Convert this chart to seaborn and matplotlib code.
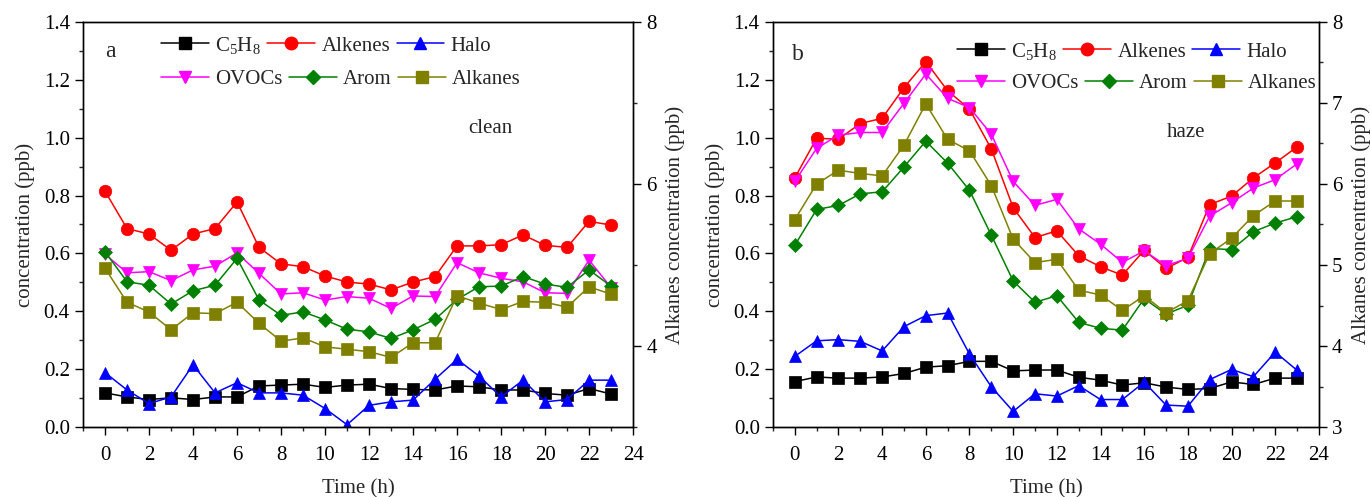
import numpy as np
import pandas as pd
import matplotlib
matplotlib.use("Agg")
import matplotlib.pyplot as plt
from matplotlib.lines import Line2D
from matplotlib.ticker import MultipleLocator
import seaborn as sns

hours = list(range(24))
names = ['C$_5$H$_8$', 'Alkenes', 'Halo', 'OVOCs', 'Arom']
colors = ['black', 'red', 'blue', '#ff00ff', 'green']
markers = ['s', 'o', '^', 'v', 'D']
msizes = [8, 9, 9, 9, 7]
alk_color = '#808000'

# clean days (a)
clean_c5h8 = [0.118, 0.104, 0.095, 0.101, 0.095, 0.104, 0.104, 0.142, 0.145, 0.148, 0.137, 0.145,
              0.148, 0.133, 0.130, 0.128, 0.142, 0.139, 0.128, 0.128, 0.116, 0.110, 0.133, 0.114]
clean_alkenes = [0.815, 0.686, 0.667, 0.611, 0.667, 0.686, 0.778, 0.621, 0.564, 0.554, 0.522, 0.501,
                 0.494, 0.474, 0.501, 0.520, 0.626, 0.626, 0.630, 0.664, 0.628, 0.621, 0.711, 0.698]
clean_halo = [0.188, 0.128, 0.081, 0.104, 0.215, 0.118, 0.153, 0.118, 0.118, 0.110, 0.064, 0.008,
              0.075, 0.087, 0.093, 0.165, 0.234, 0.176, 0.104, 0.162, 0.087, 0.095, 0.162, 0.162]
clean_ovocs = [0.597, 0.533, 0.537, 0.506, 0.543, 0.556, 0.602, 0.531, 0.460, 0.464, 0.439, 0.451,
               0.445, 0.410, 0.453, 0.451, 0.568, 0.533, 0.514, 0.502, 0.464, 0.462, 0.577, 0.482]
clean_arom = [0.606, 0.502, 0.490, 0.425, 0.471, 0.490, 0.583, 0.439, 0.386, 0.398, 0.370, 0.338,
              0.329, 0.306, 0.336, 0.372, 0.441, 0.485, 0.487, 0.520, 0.494, 0.483, 0.543, 0.487]
clean_alkanes = [4.96, 4.54, 4.42, 4.20, 4.41, 4.40, 4.54, 4.28, 4.06, 4.10, 3.99, 3.96,
                 3.93, 3.86, 4.04, 4.04, 4.62, 4.53, 4.45, 4.55, 4.54, 4.48, 4.73, 4.64]

# haze days (b)
haze_c5h8 = [0.157, 0.173, 0.169, 0.169, 0.173, 0.185, 0.207, 0.212, 0.227, 0.227, 0.194, 0.197,
             0.197, 0.172, 0.162, 0.145, 0.153, 0.138, 0.130, 0.133, 0.156, 0.147, 0.169, 0.169]
haze_alkenes = [0.861, 0.998, 0.995, 1.049, 1.067, 1.173, 1.263, 1.162, 1.099, 0.961, 0.758, 0.655,
                0.678, 0.592, 0.554, 0.525, 0.611, 0.548, 0.586, 0.769, 0.798, 0.861, 0.913, 0.968]
haze_halo = [0.244, 0.298, 0.302, 0.296, 0.263, 0.347, 0.385, 0.394, 0.252, 0.139, 0.054, 0.115,
             0.107, 0.143, 0.095, 0.095, 0.155, 0.076, 0.072, 0.164, 0.199, 0.174, 0.259, 0.196]
haze_ovocs = [0.849, 0.963, 1.009, 1.018, 1.018, 1.119, 1.220, 1.136, 1.104, 1.012, 0.849, 0.766,
              0.787, 0.685, 0.632, 0.569, 0.609, 0.558, 0.583, 0.729, 0.775, 0.826, 0.855, 0.910]
haze_arom = [0.628, 0.752, 0.766, 0.806, 0.813, 0.899, 0.988, 0.912, 0.818, 0.663, 0.505, 0.431,
             0.454, 0.362, 0.341, 0.335, 0.444, 0.390, 0.421, 0.617, 0.613, 0.675, 0.705, 0.727]
haze_alkanes = [5.56, 6.00, 6.17, 6.13, 6.10, 6.48, 6.99, 6.55, 6.41, 5.98, 5.32, 5.03,
                5.07, 4.69, 4.63, 4.44, 4.62, 4.41, 4.56, 5.14, 5.33, 5.61, 5.79, 5.79]

sns.set_style('ticks')
plt.rcParams['font.family'] = ['Liberation Serif', 'DejaVu Serif']
plt.rcParams['mathtext.default'] = 'regular'
plt.rcParams['font.size'] = 15

fig = plt.figure(figsize=(13.7, 4.97), dpi=100)
ax_a = fig.add_axes([0.0606, 0.1408, 0.4015, 0.815])
ax_b = fig.add_axes([0.5642, 0.1408, 0.3985, 0.815])

panels = [
    (ax_a, [clean_c5h8, clean_alkenes, clean_halo, clean_ovocs, clean_arom], clean_alkanes,
     'a', 'clean', (0.05, 0.926), (0.74, 0.738), 0.142, (0.943, 0.859), 2),
    (ax_b, [haze_c5h8, haze_alkenes, haze_halo, haze_ovocs, haze_arom], haze_alkanes,
     'b', 'haze', (0.046, 0.92), (0.756, 0.726), 0.337, (0.928, 0.849), 1),
]

for ax, series, alkanes, letter, tag, lpos, tpos, legx, legy, rstep in panels:
    for vals, name, c, m, ms in zip(series, names, colors, markers, msizes):
        sns.lineplot(x=hours, y=vals, ax=ax, color=c, marker=m, markersize=ms,
                     markeredgecolor=c, markeredgewidth=0.5, linewidth=1.1, legend=False)
    ax2 = ax.twinx()
    sns.lineplot(x=hours, y=alkanes, ax=ax2, color=alk_color, marker='s', markersize=8,
                 markeredgecolor=alk_color, markeredgewidth=0.5, linewidth=1.1, legend=False)

    ax.set_xlim(-1, 24)
    ax.set_ylim(0, 1.4)
    ax2.set_ylim(3, 8)
    ax.xaxis.set_major_locator(MultipleLocator(2))
    ax.xaxis.set_minor_locator(MultipleLocator(1))
    ax.yaxis.set_major_locator(MultipleLocator(0.2))
    ax.yaxis.set_minor_locator(MultipleLocator(0.1))
    ax2.yaxis.set_major_locator(MultipleLocator(rstep))
    ax2.yaxis.set_minor_locator(MultipleLocator(rstep / 2))
    ax.yaxis.set_major_formatter(matplotlib.ticker.FormatStrFormatter('%.1f'))
    ax2.yaxis.set_major_formatter(matplotlib.ticker.FormatStrFormatter('%d'))

    for a in (ax, ax2):
        for sp in a.spines.values():
            sp.set_visible(True)
            sp.set_linewidth(1.0)
            sp.set_color('black')
        a.tick_params(which='major', direction='out', length=6, width=1, labelsize=15, colors='black')
        a.tick_params(which='minor', direction='out', length=3, width=1)
    ax.tick_params(axis='x', which='both', top=False)
    ax.tick_params(axis='x', which='major', pad=8)

    ax.set_xlabel('Time (h)', fontsize=15, labelpad=10)
    ax.set_ylabel('concentration (ppb)', fontsize=15, labelpad=6)
    ax2.set_ylabel('Alkanes concentration (ppb)', fontsize=15, labelpad=6)

    ax.text(lpos[0], lpos[1], letter, transform=ax.transAxes, fontsize=17,
            ha='center', va='center')
    ax.text(tpos[0], tpos[1], tag, transform=ax.transAxes, fontsize=15,
            ha='center', va='center')

    handles = [Line2D([], [], color=c, marker=m, markersize=ms, markeredgecolor=c, linewidth=1.1)
               for c, m, ms in zip(colors, markers, msizes)]
    handles.append(Line2D([], [], color=alk_color, marker='s', markersize=8,
                          markeredgecolor=alk_color, linewidth=1.1))
    labels = names + ['Alkanes']
    leg_kw = dict(ncol=3, frameon=False, loc='center left', borderpad=0, borderaxespad=0,
                  handlelength=2.3, handletextpad=0.3, columnspacing=0.3, fontsize=15)
    row1 = ax2.legend(handles[:3], labels[:3], bbox_to_anchor=(legx, legy[0]),
                      bbox_transform=ax.transAxes, **leg_kw)
    ax2.add_artist(row1)
    ax2.legend(handles[3:], labels[3:], bbox_to_anchor=(legx, legy[1]),
               bbox_transform=ax.transAxes, **leg_kw)

fig.savefig('out.png', dpi=100)
